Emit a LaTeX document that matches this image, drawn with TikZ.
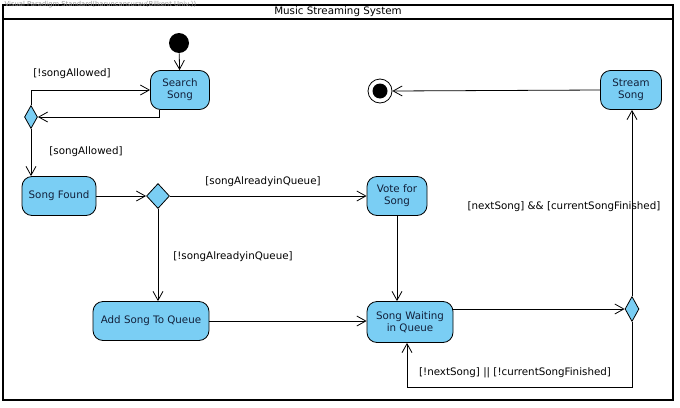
\documentclass[tikz,border=0pt]{standalone}
\usepackage{fontspec}
\setmainfont{DejaVu Sans}
\usetikzlibrary{shapes.geometric,arrows.meta}
\definecolor{actfill}{RGB}{122,206,244}
\definecolor{acttext}{RGB}{18,32,58}
\definecolor{markgray}{RGB}{150,150,150}
\begin{document}
\begin{tikzpicture}[x=1pt, y=-1pt, line width=0.8pt,
    font=\fontsize{10.3}{12}\selectfont,
    action/.style={draw, fill=actfill, rounded corners=10pt, text=acttext, align=center, inner sep=0pt},
    decision/.style={draw, fill=actfill, diamond, inner sep=0pt},
    flow/.style={-{Straight Barb[length=9pt,width=10pt,line width=0.8pt]}},
    guard/.style={inner sep=1pt}]
    \useasboundingbox (0,0) rectangle (680,407);
    % frame
    \draw[line width=1.3pt] (3,5) rectangle (673,400);
    \draw[line width=1.3pt] (3,19) -- (673,19);
    \node (title) at (338,12) {Music Streaming System};
    \node[text=markgray, font=\fontsize{6.8}{7}\selectfont, anchor=west] (mark) at (1,5) {Visual Paradigm Standard(haruncansurav(Bilkent Univ.))};

    % nodes
    \node[circle, fill=black, minimum size=20pt, inner sep=0pt] (start) at (179,43) {};
    \node[action, minimum width=59pt, minimum height=39pt] (search) at (180,90) {Search\\Song};
    \node[decision, minimum width=13pt, minimum height=23pt] (dec1) at (31,117) {};
    \node[action, minimum width=74pt, minimum height=39pt] (found) at (59,196) {Song Found};
    \node[decision, minimum width=23pt, minimum height=25pt] (dec2) at (158,196) {};
    \node[action, minimum width=60pt, minimum height=39pt] (vote) at (397,196) {Vote for\\Song};
    \node[action, minimum width=116pt, minimum height=39pt] (add) at (151,321) {Add Song To Queue};
    \node[action, minimum width=86pt, minimum height=41pt] (wait) at (410,322) {Song Waiting\\in Queue};
    \node[decision, minimum width=14pt, minimum height=25pt] (dec3) at (632,309) {};
    \node[action, minimum width=61pt, minimum height=39pt] (stream) at (631,90) {Stream\\Song};
    \node[circle, draw, fill=white, minimum size=24pt, inner sep=0pt] (final) at (380,91) {};
    \node[circle, fill=black, minimum size=15pt, inner sep=0pt] (finalin) at (final) {};
    \coordinate (back) at (407,387);

    % flows
    \draw[flow] (start) -- (search);
    \draw[flow] (dec1.north) |- (search.west);
    \draw[flow] ([xshift=-21pt]search.south) |- (dec1.east);
    \draw[flow] (dec1.south) -- (dec1.south |- found.north);
    \draw[flow] (found.east) -- (dec2.west);
    \draw[flow] (dec2.east) -- (vote.west);
    \draw[flow] (dec2.south) -- (dec2.south |- add.north);
    \draw[flow] (add.east) -- (wait.west |- add.east);
    \draw[flow] (vote.south) -- (vote.south |- wait.north);
    \draw[flow] (dec3.west -| wait.east) -- (dec3.west);
    \draw[flow] (dec3.north) -- (dec3.north |- stream.south);
    \draw[flow] (dec3.south) |- (back) -- (back |- wait.south);
    \draw[flow] (stream.west) -- (final.east);

    % guards
    \node[guard] (g1) at (72,74) {[!songAllowed]};
    \node[guard] (g2) at (86,152) {[songAllowed]};
    \node[guard] (g3) at (263,182) {[songAlreadyinQueue]};
    \node[guard] (g4) at (233,257) {[!songAlreadyinQueue]};
    \node[guard] (g5) at (564,207) {[nextSong] \&\& [currentSongFinished]};
    \node[guard] (g6) at (515,373) {[!nextSong] || [!currentSongFinished]};
\end{tikzpicture}
\end{document}
